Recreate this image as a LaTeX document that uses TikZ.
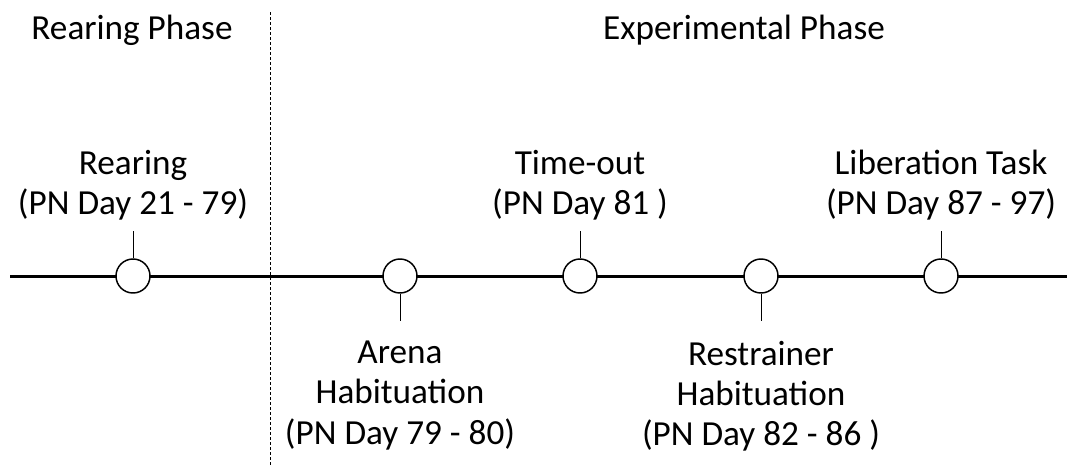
\documentclass[tikz,border=0pt]{standalone}
\usepackage{fontspec}
\setmainfont{Carlito}
\usetikzlibrary{positioning}

\tikzset{
  stage/.style={circle, draw, line width=1.1pt, fill=white,
    minimum size=25.5pt, inner sep=0pt},
  stem/.style={line width=0.75pt},
  caption/.style={align=center, inner sep=0pt,
    font=\fontsize{26.4}{30.2}\selectfont},
}

\begin{document}
\begin{tikzpicture}[x=0.75pt, y=-0.75pt]
    \useasboundingbox (0,0) rectangle (1067,465);

    % phases
    \node[caption, anchor=base] (rearphase) at (132,39) {Rearing Phase};
    \node[caption, anchor=base] (exphase) at (744,39) {Experimental Phase};
    \coordinate (splittop) at (270,12);
    \coordinate (splitbot) at (270,465);
    \draw[line width=0.75pt, dash pattern=on 2.25pt off 1.5pt]
    (splittop) -- (splitbot) ;

    % time line
    \coordinate (lstart) at (10,276);
    \coordinate (lend) at (1067,276);
    \draw[line width=2.25pt] (lstart) -- (lend) ;
    \foreach \x/\n in {133/rear, 400/arena, 580/timeout, 761/restr, 941/lib}
      \node[stage] (\n) at (\x,276) {};

    % stems
    \foreach \n in {rear, timeout, lib}
      \draw[stem] (\n.north) -- ++(0,-27) coordinate (\n-end) ;
    \foreach \n in {arena, restr}
      \draw[stem] (\n.south) -- ++(0,27) coordinate (\n-end) ;

    % labels
    \node[caption, above=8pt of rear-end] (rearlbl)
    {Rearing\\(PN Day 21 - 79)};
    \node[caption, above=8pt of timeout-end] (timeoutlbl)
    {Time-out\\(PN Day 81 )};
    \node[caption, above=8pt of lib-end] (liblbl)
    {Liberation Task\\(PN Day 87 - 97)};
    \node[caption, below=15pt of arena-end] (arenalbl)
    {Arena\\Habituation\\(PN Day 79 - 80)};
    \node[caption, below=15pt of restr-end] (restrlbl)
    {Restrainer\\Habituation\\(PN Day 82 - 86 )};
\end{tikzpicture}
\end{document}
